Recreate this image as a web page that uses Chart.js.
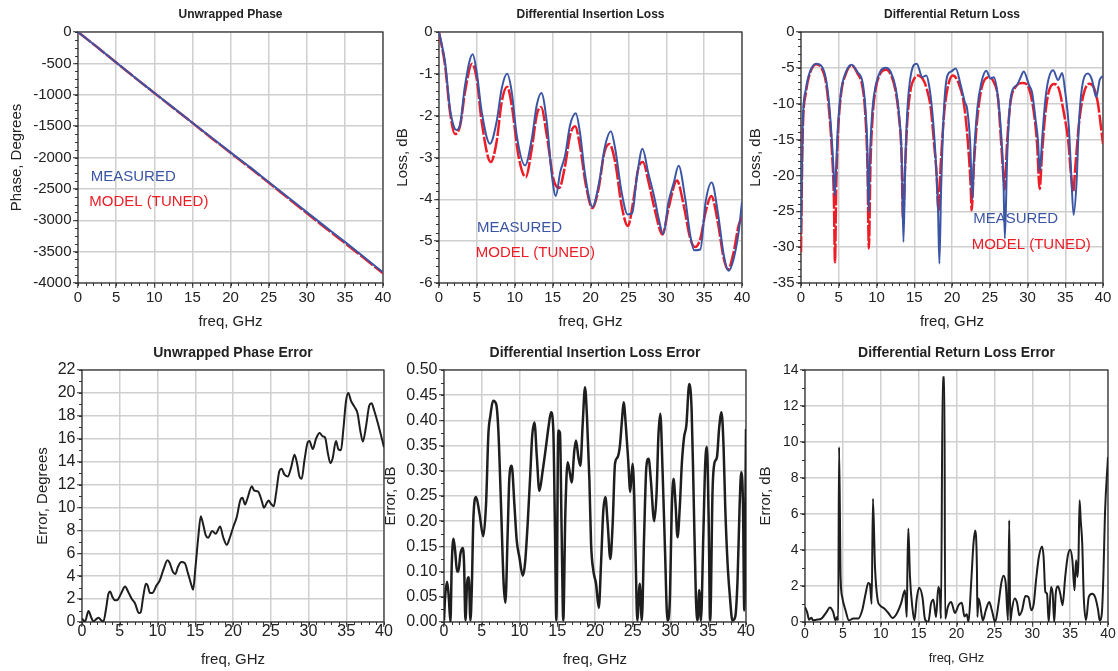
<!DOCTYPE html>
<html lang="en">
<head>
<meta charset="UTF-8">
<title>Differential channel: measured vs tuned model</title>
<style>
  body { margin: 0; background: #fff; }
  .sheet { position: relative; width: 1118px; height: 671px; overflow: hidden; }
  .sheet canvas { position: absolute; }
</style>
</head>
<body>
<div class="sheet">
  <canvas id="phase"></canvas>
  <canvas id="insertion"></canvas>
  <canvas id="ret"></canvas>
  <canvas id="phaseErr"></canvas>
  <canvas id="insertionErr"></canvas>
  <canvas id="retErr"></canvas>
</div>

<script src="https://cdn.jsdelivr.net/npm/chart.js@4.4.1/dist/chart.umd.min.js"></script>
<script>
// [freq GHz, value] pairs for every trace
const phaseMeasured = [[0,0],[2.5,-240],[5,-485],[7.5,-730],[10,-968],[12.5,-1205],[15,-1445],[17.5,-1680],[20,-1918],[22.5,-2150],[25,-2390],[27.5,-2630],[30,-2870],[32.5,-3110],[35,-3345],[37.5,-3585],[40,-3830]];
const phaseModel = [[0,0],[2.5,-240],[5,-487],[7.5,-731],[10,-971],[12.5,-1210],[15,-1448],[17.5,-1688],[20,-1926],[22.5,-2161],[25,-2400],[27.5,-2643],[30,-2885],[32.5,-3126],[35,-3363],[37.5,-3602],[40,-3846]];

const ilMeasured = [[0,0],[0.8,-0.72],[1.45,-1.83],[2.0,-2.28],[2.3,-2.34],[2.8,-2.2],[3.44,-1.27],[4.45,-0.53],[4.98,-0.96],[5.64,-1.91],[6.74,-2.67],[7.6,-2.15],[8.28,-1.35],[8.99,-1.0],[9.6,-1.43],[10.26,-2.47],[11.37,-3.19],[12.25,-2.55],[12.9,-1.75],[13.52,-1.46],[14.23,-2.15],[14.9,-3.43],[15.42,-3.92],[16.0,-3.35],[16.65,-2.95],[17.3,-2.23],[18.06,-1.94],[18.6,-2.39],[19.3,-3.43],[20.26,-4.18],[21.06,-3.67],[21.94,-2.71],[22.69,-2.37],[23.26,-2.79],[24.1,-3.82],[24.9,-4.36],[25.5,-4.33],[26.1,-3.5],[26.87,-2.79],[27.6,-3.35],[28.46,-3.98],[29.0,-4.46],[29.6,-4.83],[30.3,-4.06],[31.0,-3.6],[31.63,-3.2],[32.5,-3.98],[33.17,-4.86],[33.7,-5.22],[34.5,-5.2],[35.2,-4.06],[36.0,-3.6],[36.8,-4.3],[37.6,-5.34],[38.24,-5.71],[38.9,-5.42],[39.56,-4.78],[40,-4.06]];
const ilModel = [[0,0],[0.8,-0.8],[1.45,-1.91],[2.1,-2.44],[2.8,-2.23],[3.44,-1.43],[4.36,-0.76],[4.98,-1.12],[5.64,-2.15],[6.83,-3.11],[7.6,-2.63],[8.28,-1.67],[8.99,-1.31],[9.6,-1.75],[10.48,-2.95],[11.45,-3.47],[12.25,-2.79],[12.9,-1.99],[13.48,-1.79],[14.23,-2.47],[15.1,-3.51],[15.86,-3.73],[16.65,-3.19],[17.3,-2.47],[17.97,-2.25],[18.6,-2.71],[19.4,-3.67],[20.26,-4.21],[21.06,-3.75],[21.85,-2.87],[22.5,-2.68],[23.26,-3.11],[24.1,-4.14],[24.93,-4.64],[25.7,-3.98],[26.3,-3.27],[26.92,-3.11],[27.67,-3.59],[28.55,-4.3],[29.5,-4.84],[30.3,-4.22],[31.41,-3.55],[32.3,-4.14],[33.17,-4.94],[33.83,-5.14],[34.5,-4.94],[35.2,-4.3],[35.95,-3.92],[36.8,-4.54],[37.6,-5.42],[38.15,-5.68],[38.9,-5.26],[39.56,-4.62],[40,-4.42]];

const rlMeasured = [[0,-28],[0.22,-13],[0.66,-7.9],[1.1,-5.8],[2.0,-4.42],[2.64,-4.65],[3.3,-6.5],[3.74,-10.2],[4.1,-15.3],[4.3,-19],[4.45,-22.8],[4.63,-19.5],[4.85,-14],[5.29,-8.4],[5.95,-5.6],[6.7,-4.56],[7.5,-5.6],[8.15,-7.0],[8.5,-10.2],[8.8,-16.7],[8.94,-25.1],[9.16,-16.7],[9.47,-10.7],[9.9,-7.4],[10.5,-5.5],[11.23,-5.0],[11.9,-5.6],[12.56,-7.9],[13.0,-11.6],[13.35,-17.7],[13.57,-29.3],[13.8,-18.6],[14.1,-10.7],[14.54,-6.05],[15.33,-4.42],[16.08,-6.3],[16.6,-6.05],[16.96,-7.4],[17.4,-11.2],[17.84,-17.7],[18.15,-24.7],[18.33,-32.3],[18.55,-22.3],[18.94,-10.7],[19.4,-6.05],[19.9,-5.5],[20.5,-5.1],[21.15,-7.4],[21.7,-9.8],[22.0,-10.7],[22.4,-15.3],[22.7,-23.3],[22.9,-17.7],[23.35,-10.7],[23.9,-7.0],[24.54,-5.4],[25.1,-6.5],[25.55,-6.3],[26.0,-8.4],[26.43,-13],[26.8,-20],[27.0,-28.8],[27.3,-17.7],[27.67,-10.2],[28.1,-7.9],[28.6,-7.4],[29.1,-6.3],[29.5,-5.5],[30.2,-7.4],[30.6,-8.4],[31.06,-12.1],[31.4,-15.3],[31.63,-19.5],[31.94,-14.9],[32.38,-9.3],[32.8,-6.5],[33.4,-5.35],[34.05,-6.7],[34.6,-5.7],[35.0,-8.4],[35.46,-13],[35.8,-20],[36.1,-25.5],[36.5,-20.9],[36.8,-13],[37.2,-7.9],[38.0,-5.8],[38.55,-6.7],[39.1,-9.1],[39.56,-6.7],[40,-6.1]];
const rlModel = [[0,-30.7],[0.22,-14.4],[0.66,-8.4],[1.1,-6.05],[2.0,-4.5],[2.64,-4.9],[3.3,-7.0],[3.74,-11.2],[4.1,-16.7],[4.36,-23.3],[4.5,-32.1],[4.67,-21.4],[4.89,-14.4],[5.29,-8.8],[5.95,-5.8],[6.7,-4.65],[7.5,-5.8],[8.15,-7.7],[8.5,-11.2],[8.8,-18.6],[8.99,-30.2],[9.2,-18.6],[9.5,-11.6],[9.9,-7.9],[10.5,-5.8],[11.3,-5.25],[11.9,-5.95],[12.56,-8.4],[13.0,-12.1],[13.3,-16.7],[13.52,-26],[13.8,-18.6],[14.1,-12.1],[14.54,-7.9],[15.0,-6.5],[15.5,-6.05],[16.1,-6.5],[16.65,-7.9],[17.2,-10.7],[17.6,-15.3],[17.97,-20],[18.2,-25.1],[18.5,-18.6],[18.94,-11.6],[19.4,-7.9],[20.1,-6.05],[20.9,-7.2],[21.6,-10.2],[22.1,-15.3],[22.47,-21.4],[22.6,-24.9],[22.9,-18.6],[23.35,-12.1],[23.9,-7.9],[24.8,-6.3],[25.55,-7.0],[26.1,-9.3],[26.5,-15.3],[26.8,-20],[26.96,-22],[27.3,-15.3],[27.75,-9.8],[28.4,-7.7],[29.4,-7.1],[30.2,-7.9],[30.84,-11.2],[31.28,-15.8],[31.6,-21.9],[31.94,-16.7],[32.38,-11.2],[32.8,-8.4],[33.48,-7.25],[34.14,-7.9],[34.8,-11.2],[35.4,-15.3],[35.77,-20],[36.04,-22.3],[36.35,-18.6],[36.8,-13],[37.4,-8.8],[38.2,-7.2],[38.77,-7.7],[39.3,-9.8],[40,-15.6]];

const phaseError = [[0,0.3],[0.2,0.15],[0.4,0.05],[0.86,0.96],[1.2,0.44],[1.5,0.05],[1.96,0.3],[2.2,0.38],[2.55,0.15],[2.84,0.05],[3.15,1.0],[3.5,2.47],[3.72,2.67],[4.03,2.18],[4.38,1.89],[4.73,1.95],[5.26,2.6],[5.7,3.1],[6.14,2.6],[6.58,2.03],[7.0,1.66],[7.55,0.78],[7.77,0.84],[8.1,2.18],[8.47,3.34],[8.69,3.2],[9.0,2.53],[9.3,2.53],[9.88,3.2],[10.3,3.63],[10.75,4.5],[11.33,5.38],[11.6,5.17],[12.05,4.36],[12.37,4.2],[12.7,4.8],[13.17,5.23],[13.6,5.15],[14.06,4.2],[14.5,3.2],[14.72,2.82],[15.03,4.8],[15.4,7.4],[15.73,9.24],[16.03,8.58],[16.4,7.56],[16.7,7.35],[17.25,7.94],[17.7,7.7],[18.3,8.34],[18.7,7.4],[19.17,6.74],[19.6,7.4],[20.06,8.34],[20.5,9.16],[20.95,10.6],[21.25,10.84],[21.6,10.26],[21.9,10.76],[22.5,11.86],[22.8,11.48],[23.3,11.4],[23.8,10.6],[24.1,9.97],[24.4,10.3],[24.7,10.6],[25.05,10.3],[25.4,10.1],[25.7,11.2],[26.15,13.2],[26.45,13.37],[26.8,12.88],[27.25,12.7],[27.7,13.5],[28.15,14.6],[28.5,13.8],[28.8,12.7],[29.1,12.5],[29.46,14.1],[29.9,15.7],[30.12,15.8],[30.56,15.1],[31.0,16.0],[31.46,16.5],[31.9,16.2],[32.2,16.1],[32.55,14.8],[32.9,13.87],[33.2,14.3],[33.64,15.8],[33.95,15.1],[34.3,15.0],[34.6,16.7],[34.97,19.3],[35.28,20.0],[35.63,19.3],[36.07,18.8],[36.5,18.2],[36.86,16.7],[37.2,15.75],[37.6,17.0],[38.05,18.9],[38.35,19.1],[38.7,18.46],[39.15,17.44],[39.6,16.3],[40,15.26]];

const ilError = [[0,0.003],[0.15,0.05],[0.41,0.08],[0.63,0.05],[0.85,0.0],[1.03,0.115],[1.25,0.165],[1.47,0.142],[1.73,0.1],[1.9,0.1],[2.17,0.135],[2.48,0.147],[2.66,0.115],[2.84,0.003],[3.06,0.076],[3.28,0.089],[3.5,0.003],[3.67,0.06],[3.9,0.208],[4.25,0.248],[4.7,0.215],[5.2,0.17],[5.57,0.234],[5.88,0.373],[6.15,0.41],[6.5,0.439],[6.9,0.433],[7.2,0.38],[7.56,0.228],[7.9,0.076],[8.13,0.038],[8.44,0.18],[8.66,0.287],[8.97,0.31],[9.32,0.234],[9.63,0.162],[9.98,0.129],[10.43,0.092],[10.73,0.116],[11.1,0.2],[11.45,0.3],[11.67,0.367],[11.98,0.396],[12.3,0.327],[12.63,0.26],[13.07,0.3],[13.5,0.347],[13.87,0.39],[14.18,0.416],[14.48,0.38],[14.7,0.18],[14.88,0.003],[15.14,0.38],[15.36,0.376],[15.58,0.18],[15.8,0.003],[16.07,0.215],[16.38,0.317],[16.69,0.294],[16.91,0.277],[17.26,0.34],[17.48,0.36],[17.8,0.327],[18.06,0.31],[18.37,0.393],[18.68,0.466],[18.94,0.406],[19.26,0.281],[19.48,0.155],[19.78,0.102],[20.14,0.076],[20.5,0.028],[20.8,0.116],[21.1,0.221],[21.37,0.248],[21.68,0.195],[22.03,0.125],[22.34,0.195],[22.65,0.314],[23.0,0.327],[23.3,0.35],[23.57,0.4],[23.79,0.436],[24.1,0.386],[24.4,0.32],[24.67,0.258],[24.97,0.314],[25.2,0.248],[25.4,0.116],[25.6,0.003],[25.93,0.076],[26.2,0.003],[26.5,0.168],[26.8,0.307],[27.1,0.324],[27.4,0.281],[27.84,0.2],[28.15,0.254],[28.4,0.37],[28.65,0.413],[28.95,0.3],[29.26,0.149],[29.6,0.003],[29.93,0.05],[30.15,0.215],[30.4,0.284],[30.67,0.234],[30.93,0.168],[31.25,0.234],[31.5,0.314],[31.8,0.367],[32.1,0.39],[32.48,0.472],[32.8,0.42],[33.05,0.261],[33.36,0.05],[33.58,0.003],[33.8,0.063],[34.03,0.003],[34.34,0.168],[34.6,0.314],[34.82,0.347],[35.04,0.215],[35.26,0.003],[35.57,0.261],[35.8,0.314],[36.15,0.327],[36.45,0.386],[36.76,0.416],[37.03,0.347],[37.25,0.228],[37.56,0.116],[37.87,0.05],[38.2,0.003],[38.57,0.01],[38.88,0.083],[39.15,0.228],[39.37,0.297],[39.6,0.234],[39.77,0.023],[40,0.383]];

const rlError = [[0,0.83],[0.28,0.55],[0.54,0.13],[0.85,0.24],[1.07,0.09],[1.5,0.13],[2.17,0.19],[2.84,0.55],[3.28,0.8],[3.72,0.55],[4.03,0.09],[4.25,0.28],[4.38,0.1],[4.5,9.72],[4.7,2.5],[4.91,1.39],[5.35,0.65],[5.8,0.09],[6.37,0.19],[7.03,0.19],[7.55,0.65],[8.0,1.57],[8.35,2.17],[8.57,2.1],[8.8,1.0],[8.97,6.85],[9.24,3.05],[9.6,1.2],[9.9,0.93],[10.5,0.74],[11.0,0.5],[11.57,0.22],[12.1,0.46],[12.67,1.02],[13.2,1.76],[13.43,0.28],[13.52,2.87],[13.64,5.19],[13.86,2.5],[14.17,0.83],[14.44,0.09],[14.75,1.3],[15.06,1.9],[15.5,1.39],[15.85,0.13],[16.28,0],[16.64,1.02],[16.95,1.24],[17.3,0.28],[17.6,1.94],[17.8,1.57],[17.95,0.19],[18.18,13.6],[18.4,13.6],[18.5,0.19],[18.85,0.83],[19.29,1.11],[19.8,0.5],[20.26,0.93],[20.7,1.07],[21.05,0.31],[21.36,0.43],[21.58,0],[21.93,2.13],[22.24,4.35],[22.46,5.09],[22.7,2.87],[22.76,0.28],[22.9,1.3],[23.1,1.02],[23.48,0.09],[23.87,0.65],[24.32,1.11],[24.67,0.65],[25.1,0],[25.55,1.02],[25.9,2.13],[26.2,2.57],[26.5,2.13],[26.8,0.09],[26.96,5.65],[27.1,0],[27.3,0.65],[27.67,1.3],[28.0,1.06],[28.3,0.37],[28.65,0.65],[29.1,1.44],[29.5,1.39],[29.88,0.65],[30.2,1.02],[30.5,2.31],[30.87,3.61],[31.3,4.2],[31.5,3.61],[31.73,1.67],[31.95,1.57],[32.17,0],[32.48,1.94],[32.7,1.57],[32.9,0],[33.1,1.57],[33.4,1.98],[33.7,1.57],[34.0,0.93],[34.35,2.5],[34.7,3.7],[35.0,4.02],[35.3,3.43],[35.58,1.76],[35.7,2.87],[35.8,3.43],[35.97,2.5],[36.1,3.43],[36.25,6.76],[36.4,5.65],[36.6,4.35],[36.8,1.39],[37.1,0.09],[37.46,1.39],[37.9,1.57],[38.3,1.39],[38.7,0.65],[38.9,0.09],[39.2,0.55],[39.4,2.68],[39.6,6.0],[40,9.17]];

const BLUE = '#3b55a5';
const RED = '#ee1c25';
const INK = '#1e1e1e';
const FONT = '"Liberation Sans", Arial, sans-serif';

Chart.defaults.font.family = FONT;
Chart.defaults.color = '#222';

const toPoints = pairs => pairs.map(([x, y]) => ({ x, y }));

function measuredLine(pairs) {
    return { data: toPoints(pairs), borderColor: BLUE, borderWidth: 2, pointRadius: 0, cubicInterpolationMode: 'monotone' };
}
function modelLine(pairs) {
    return { data: toPoints(pairs), borderColor: RED, borderWidth: 2.5, borderDash: [16, 2], pointRadius: 0, cubicInterpolationMode: 'monotone' };
}
function errorLine(pairs, width = 2) {
    return { data: toPoints(pairs), borderColor: INK, borderWidth: width, pointRadius: 0, cubicInterpolationMode: 'monotone' };
}

// minor ticks, plot frame and the in-plot trace labels
const framePlugin = {
    id: 'frame',
    beforeDatasetsDraw(chart, args, opts) {
        const { ctx, chartArea: a, scales: { x, y } } = chart;
        ctx.save();
        ctx.strokeStyle = '#333';
        ctx.lineWidth = 1;
        ctx.beginPath();
        const nx = Math.round((x.max - x.min) / opts.xMinor);
        for (let i = 0; i <= nx; i++) {
            const px = Math.round(x.getPixelForValue(x.min + i * opts.xMinor)) + 0.5;
            ctx.moveTo(px, a.bottom);
            ctx.lineTo(px, a.bottom + 3);
        }
        const ny = Math.round((y.max - y.min) / opts.yMinor);
        for (let i = 0; i <= ny; i++) {
            const py = Math.round(y.getPixelForValue(y.min + i * opts.yMinor)) + 0.5;
            ctx.moveTo(a.left - 3, py);
            ctx.lineTo(a.left, py);
        }
        ctx.stroke();
        ctx.lineWidth = 1.2;
        ctx.strokeStyle = '#2a2a2a';
        ctx.strokeRect(a.left, a.top, a.right - a.left, a.bottom - a.top);
        ctx.restore();
    },
    afterDatasetsDraw(chart, args, opts) {
        if (!opts.notes) return;
        const { ctx, scales: { x, y } } = chart;
        ctx.save();
        ctx.font = '15px ' + FONT;
        ctx.textAlign = 'left';
        ctx.textBaseline = 'middle';
        opts.notes.forEach(n => {
            ctx.fillStyle = n.color;
            ctx.fillText(n.text, x.getPixelForValue(n.x), y.getPixelForValue(n.y));
        });
        ctx.restore();
    }
};

// box: canvas placement on the sheet; area: wanted plot rectangle (page px)
function panel(id, box, area, o) {
    const canvas = document.getElementById(id);
    canvas.width = box.w;
    canvas.height = box.h;
    canvas.style.left = box.x + 'px';
    canvas.style.top = box.y + 'px';

    const titleLine = o.titleSize * 1.2;
    const titleBlock = area.t - box.y;
    const yWidth = area.l - box.x;
    const xHeight = box.y + box.h - area.b;

    return new Chart(canvas, {
        type: 'line',
        data: { datasets: o.datasets },
        options: {
            responsive: false,
            animation: false,
            devicePixelRatio: 1,
            layout: { padding: { left: 0, top: 0, bottom: 0, right: box.x + box.w - area.r } },
            plugins: {
                legend: { display: false },
                tooltip: { enabled: false },
                title: {
                    display: true,
                    text: o.title,
                    fullSize: false,
                    color: '#222',
                    font: { size: o.titleSize, weight: 'bold', lineHeight: 1.2 },
                    padding: { top: o.titleTop, bottom: titleBlock - titleLine - o.titleTop }
                },
                frame: { xMinor: 1, yMinor: o.yMinor, notes: o.notes }
            },
            scales: {
                x: {
                    type: 'linear', min: 0, max: 40,
                    afterFit: s => { s.height = xHeight; },
                    border: { display: false },
                    grid: { color: '#cfcfcf', lineWidth: 1.5, tickLength: 5, tickColor: '#333', tickWidth: 1 },
                    ticks: { stepSize: 5, autoSkip: false, maxRotation: 0, padding: o.xTickPad, color: '#222', font: { size: o.tickSize } },
                    title: { display: true, text: 'freq, GHz', color: '#222', font: { size: o.xTitleSize }, padding: { top: 0, bottom: o.xTitlePad } }
                },
                y: {
                    type: 'linear', min: o.yMin, max: o.yMax,
                    afterFit: s => { s.width = yWidth; },
                    border: { display: false },
                    grid: { color: '#cfcfcf', lineWidth: 1.5, tickLength: 5, tickColor: '#333', tickWidth: 1 },
                    ticks: { stepSize: o.yStep, padding: 1.5, color: '#222', font: { size: o.tickSize }, callback: o.yFormat || (v => v) },
                    title: { display: true, text: o.yTitle, color: '#222', font: { size: 15 }, padding: { top: o.yTitlePad, bottom: 0 } }
                }
            }
        },
        plugins: [framePlugin]
    });
}

const topRow = { titleSize: 12, titleTop: 7.5, tickSize: 15, xTickPad: 1, xTitleSize: 15, xTitlePad: 4 };
const lowRow = { titleSize: 14, titleTop: 10, tickSize: 16, xTickPad: -4.6, xTitleSize: 15, xTitlePad: 2.2 };

panel('phase', { x: 0, y: 0, w: 395, h: 335 }, { l: 78, r: 383, t: 32, b: 283 }, {
    ...topRow, title: 'Unwrapped Phase', yTitle: 'Phase, Degrees', yTitlePad: 8,
    yMin: -4000, yMax: 0, yStep: 500, yMinor: 125,
    datasets: [measuredLine(phaseMeasured), modelLine(phaseModel)],
    notes: [{ text: 'MEASURED', color: BLUE, x: 1.67, y: -2310 }, { text: 'MODEL (TUNED)', color: RED, x: 1.48, y: -2714 }]
});

panel('insertion', { x: 385, y: 0, w: 367, h: 335 }, { l: 439, r: 742, t: 32, b: 283 }, {
    ...topRow, title: 'Differential Insertion Loss', yTitle: 'Loss, dB', yTitlePad: 8.5,
    yMin: -6, yMax: 0, yStep: 1, yMinor: 0.2,
    datasets: [measuredLine(ilMeasured), modelLine(ilModel)],
    notes: [{ text: 'MEASURED', color: BLUE, x: 5.03, y: -4.67 }, { text: 'MODEL (TUNED)', color: RED, x: 4.85, y: -5.27 }]
});

panel('ret', { x: 740, y: 0, w: 378, h: 335 }, { l: 801, r: 1103, t: 32, b: 283 }, {
    ...topRow, title: 'Differential Return Loss', yTitle: 'Loss, dB', yTitlePad: 7,
    yMin: -35, yMax: 0, yStep: 5, yMinor: 1,
    datasets: [measuredLine(rlMeasured), modelLine(rlModel)],
    notes: [{ text: 'MEASURED', color: BLUE, x: 22.8, y: -26.1 }, { text: 'MODEL (TUNED)', color: RED, x: 22.6, y: -29.7 }]
});

panel('phaseErr', { x: 0, y: 335, w: 395, h: 336 }, { l: 82, r: 384, t: 370, b: 622 }, {
    ...lowRow, title: 'Unwrapped Phase Error', yTitle: 'Error, Degrees', yTitlePad: 34,
    yMin: 0, yMax: 22, yStep: 2, yMinor: 1,
    datasets: [errorLine(phaseError)]
});

panel('insertionErr', { x: 380, y: 335, w: 376, h: 336 }, { l: 444, r: 746, t: 370, b: 622 }, {
    ...lowRow, title: 'Differential Insertion Loss Error', yTitle: 'Error, dB', yTitlePad: 1.5,
    yMin: 0, yMax: 0.5, yStep: 0.05, yMinor: 0.025, yFormat: v => v.toFixed(2),
    datasets: [errorLine(ilError, 2.5)]
});

panel('retErr', { x: 750, y: 335, w: 368, h: 336 }, { l: 805, r: 1108, t: 370, b: 622 }, {
    ...lowRow, tickSize: 14, xTickPad: -1.4, xTitleSize: 13, xTitlePad: 4.4,
    title: 'Differential Return Loss Error', yTitle: 'Error, dB', yTitlePad: 6.5,
    yMin: 0, yMax: 14, yStep: 2, yMinor: 1,
    datasets: [errorLine(rlError)]
});
</script>
</body>
</html>
